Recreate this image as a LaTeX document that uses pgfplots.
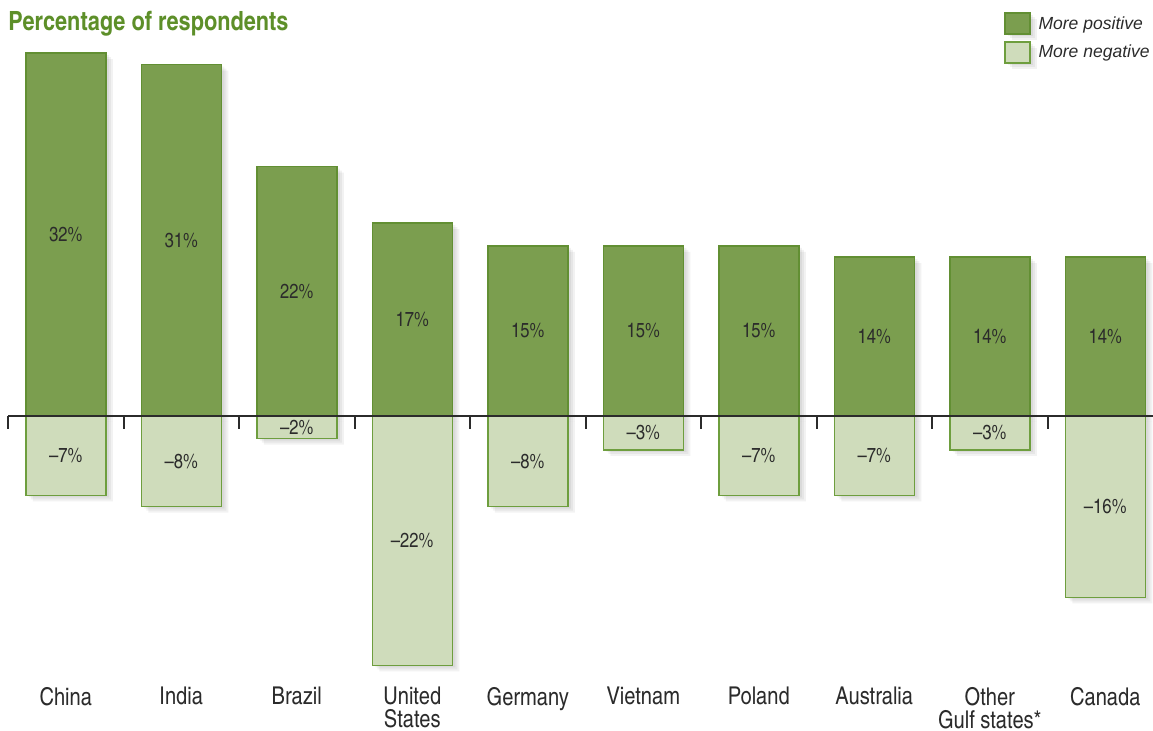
\documentclass[border=0pt]{standalone}
\usepackage{fontspec}
\setmainfont{TeX Gyre Heros Cn}
\newfontfamily\legfont{Liberation Sans}
\usepackage{pgfplots}
\pgfplotsset{compat=1.18}
\definecolor{darkg}{HTML}{7B9E4F}
\definecolor{darkgb}{HTML}{628F33}
\definecolor{lightg}{HTML}{CFDCBB}
\definecolor{lightgb}{HTML}{6E9E3E}
\definecolor{titleg}{HTML}{5D8F29}
\definecolor{txt}{HTML}{2B2B2B}
\tikzset{softshadow/.style={
  preaction={fill=black, draw=none, opacity=0.05, transform canvas={shift={(3.5bp,-3bp)}}},
  preaction={fill=black, draw=none, opacity=0.05, transform canvas={shift={(2.5bp,-2bp)}}},
  preaction={fill=black, draw=none, opacity=0.05, transform canvas={shift={(1.5bp,-1bp)}}}}}
\begin{document}
\begin{tikzpicture}
\useasboundingbox (0,0) rectangle (576.5bp,365.5bp);
\node[anchor=base west, inner sep=0pt, text=titleg, font=\bfseries\fontsize{13.3}{15}\selectfont] at (4bp,350.1bp) {Percentage of respondents};
\begin{axis}[
  at={(4bp,27.2bp)}, anchor=south west,
  x=57.75bp, y=5.667bp,
  xmin=-0.5, xmax=9.45, ymin=-23, ymax=36.7,
  axis x line*=bottom, axis y line=none, x axis line style={draw=none},
  major tick length=0pt,
  xtick={0,...,9},
  xticklabels={China,India,Brazil,{United\\States},Germany,Vietnam,Poland,Australia,{Other\\Gulf states*},Canada},
  xticklabel style={align=center, inner sep=0pt, anchor=north, yshift=-5.2bp, font=\fontsize{12.3}{11.5}\selectfont, text=txt},
  ybar, bar width=40bp, bar shift=0pt,
  clip=false,
  legend style={draw=none, fill=none, at={(0.8667,0.9815)}, anchor=north west,
    inner sep=0pt, outer sep=0pt, row sep=3.2bp,
    font=\legfont\itshape\fontsize{8.8}{10}\selectfont, text=txt,
    nodes={inner sep=0pt}, /tikz/every odd column/.append style={column sep=4bp}},
  legend cell align=left,
  visualization depends on={rawy \as \rawy},
  nodes near coords,
  point meta=explicit symbolic,
  every node near coord/.append style={anchor=center, font=\fontsize{10.2}{12}\selectfont, text=txt,
     shift={(axis direction cs:0,-0.5*\rawy)}},
]
\addplot[fill=darkg, draw=darkgb, line width=0.75bp, softshadow,
  legend image code/.code={\draw[fill=darkg, draw=darkgb, line width=0.75bp] (0bp,-5bp) rectangle (12.5bp,5.5bp);}]
  coordinates {(0,32)[32\%] (1,31)[31\%] (2,22)[22\%] (3,17)[17\%] (4,15)[15\%]
               (5,15)[15\%] (6,15)[15\%] (7,14)[14\%] (8,14)[14\%] (9,14)[14\%]};
\addlegendentry{More positive}
\addplot[fill=lightg, draw=lightgb, line width=0.75bp, softshadow,
  legend image code/.code={\draw[fill=lightg, draw=lightgb, line width=0.75bp] (0bp,-5bp) rectangle (12.5bp,5.5bp);}]
  coordinates {(0,-7)[–7\%] (1,-8)[–8\%] (2,-2)[–2\%] (3,-22)[–22\%] (4,-8)[–8\%]
               (5,-3)[–3\%] (6,-7)[–7\%] (7,-7)[–7\%] (8,-3)[–3\%] (9,-16)[–16\%]};
\addlegendentry{More negative}
\draw[line width=1bp, txt] (axis cs:-0.5,0) -- (axis cs:9.45,0);
\pgfplotsinvokeforeach{0,...,9}{
  \draw[line width=1bp, txt] (axis cs:#1-0.5,0) -- (axis cs:#1-0.5,-1.15);
}
\end{axis}
\end{tikzpicture}
\end{document}
